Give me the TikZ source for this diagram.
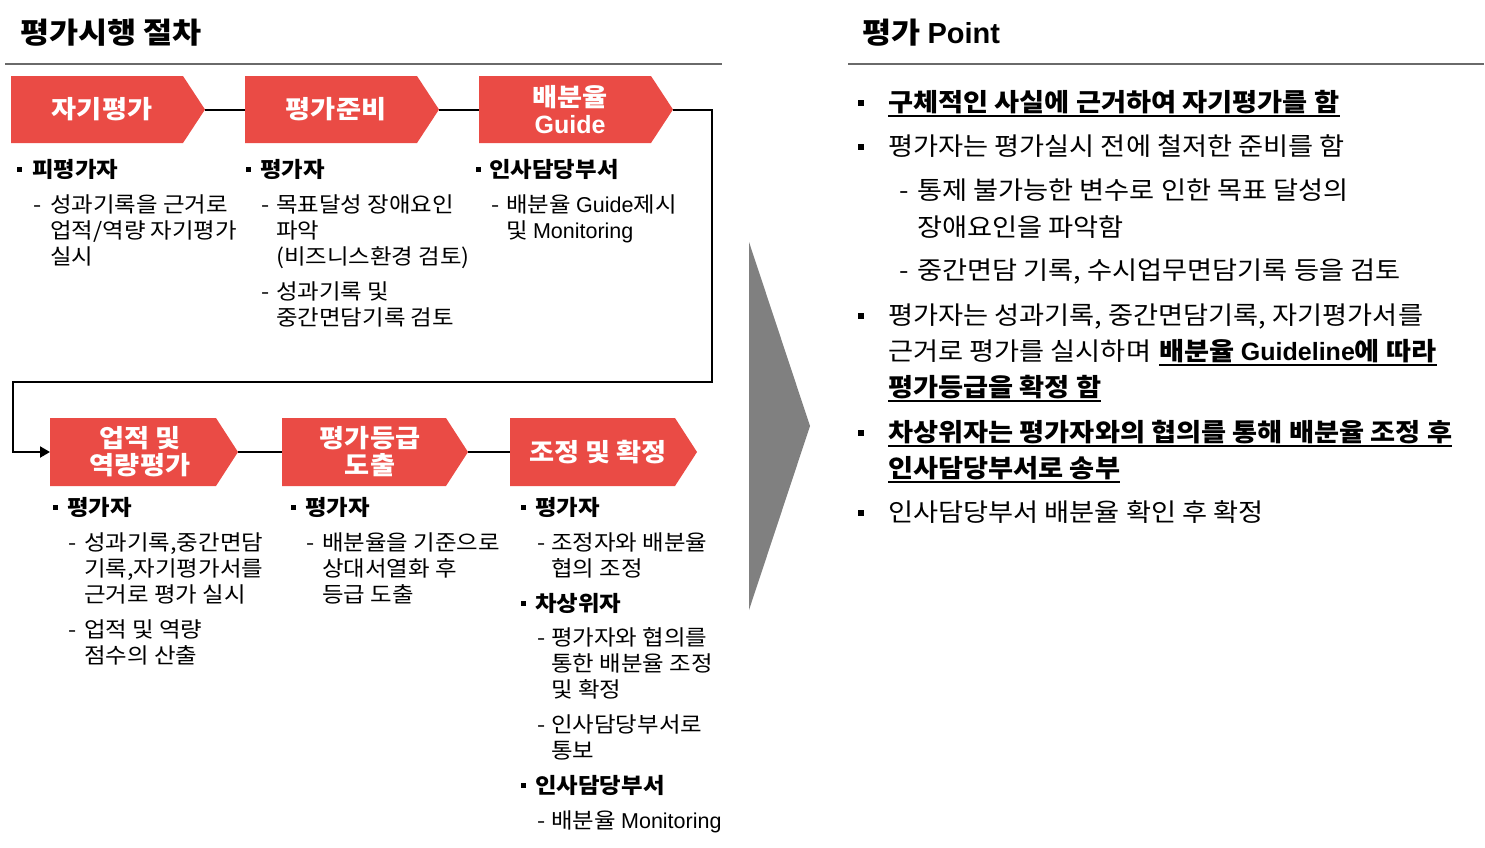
\documentclass[tikz,border=0pt]{standalone}
\usepackage{fontspec}
\setmainfont{Noto Sans CJK KR}[FakeStretch=1.09]
\newfontfamily\lat{Liberation Sans}
\usetikzlibrary{arrows.meta,calc}
\definecolor{chevred}{HTML}{EA4B45}
\definecolor{rulegray}{HTML}{6A6A6A}
\definecolor{arrowgray}{HTML}{808080}
\newcommand{\chevshape}[6]{%
  \fill[chevred] (#2,#5) -- (#3,#5) -- (#4,{(#5+#6)/2}) -- (#3,#6) -- (#2,#6) -- cycle;
  \coordinate (#1w) at (#2,{(#5+#6)/2});
  \coordinate (#1e) at (#4,{(#5+#6)/2});
}
\tikzset{
  chevtext/.style={text=white, font=\bfseries\fontsize{25}{27}\selectfont, align=center, inner sep=0pt},
  lt/.style={anchor=base west, inner sep=0pt, font=\fontsize{21.5}{26}\selectfont},
  lb/.style={anchor=base west, inner sep=0pt, font=\bfseries\fontsize{21.5}{26}\selectfont},
  rt/.style={anchor=base west, inner sep=0pt, font=\fontsize{25}{36}\selectfont},
  rb/.style={anchor=base west, inner sep=0pt, font=\bfseries\fontsize{25}{36}\selectfont},
  ttl/.style={anchor=base west, inner sep=0pt, font=\bfseries\fontsize{29}{34}\selectfont},
  sq/.style={rectangle, fill=black, inner sep=0pt, minimum size=5pt},
  rsq/.style={rectangle, fill=black, inner sep=0pt, minimum size=6pt},
  conn/.style={draw=black, line width=2pt},
  hrule/.style={draw=rulegray, line width=2pt},
  uline/.style={draw=black, line width=1.6pt},
}
\begin{document}
\begin{tikzpicture}[x=1pt,y=-1pt]
\useasboundingbox (0,0) rectangle (1485,847);

% titles and rules
\node[ttl] (t1) at (20,43) {평가시행 절차};
\node[ttl] (t2) at (862,43) {평가 {\lat Point}};
\draw[hrule] (5,64) -- (722,64);
\draw[hrule] (848,64) -- (1484,64);

% chevrons row 1
\chevshape{c1}{11}{183}{205}{76}{143}
\chevshape{c2}{245}{417}{439}{76}{143}
\chevshape{c3}{479}{651}{673}{76}{143}
\node[chevtext] (c1t) at (102,109.5) {자기평가};
\node[chevtext] (c2t) at (336,109.5) {평가준비};
\node[chevtext] (c3t) at (570,109.5) {배분율\\{\lat Guide}};

% chevrons row 2
\chevshape{c4}{50}{216}{238}{418}{486}
\chevshape{c5}{282}{446}{468}{418}{486}
\chevshape{c6}{510}{675}{697}{418}{486}
\node[chevtext] (c4t) at (140,452) {업적 및\\역량평가};
\node[chevtext] (c5t) at (370,452) {평가등급\\도출};
\node[chevtext] (c6t) at (598,452) {조정 및 확정};

% connectors
\draw[conn] (c1e) -- (c2w);
\draw[conn] (c2e) -- (c3w);
\draw[conn] (c4e) -- (c5w);
\draw[conn] (c5e) -- (c6w);
\coordinate (lr) at (712,382);
\coordinate (ll) at (13,382);
\draw[conn, -{Triangle[length=10pt,width=11pt]}] (c3e) -| (lr) -- (ll) |- (c4w);

% gray arrow
\fill[arrowgray] (749,242) -- (810,426) -- (749,610) -- cycle;

% column 1
\node[sq] (b11) at (19.5,169) {};
\node[lb] (h11) at (32,177) {피평가자};
\node[lt] (d11) at (33,212) {-};
\node[lt] (l11a) at (50,212) {성과기록을 근거로};
\node[lt] (l11b) at (50,238) {업적/역량 자기평가};
\node[lt] (l11c) at (50,264) {실시};

% column 2
\node[sq] (b21) at (248.5,169) {};
\node[lb] (h21) at (260,177) {평가자};
\node[lt] (d21) at (261,212) {-};
\node[lt] (l21a) at (276,212) {목표달성 장애요인};
\node[lt] (l21b) at (276,238) {파악};
\node[lt] (l21c) at (276,264) {(비즈니스환경 검토)};
\node[lt] (d22) at (261,299) {-};
\node[lt] (l22a) at (276,299) {성과기록 및};
\node[lt] (l22b) at (276,325) {중간면담기록 검토};

% column 3
\node[sq] (b31) at (478.5,169) {};
\node[lb] (h31) at (489,177) {인사담당부서};
\node[lt] (d31) at (491,212) {-};
\node[lt] (l31a) at (506,212) {배분율 {\lat Guide}제시};
\node[lt] (l31b) at (506,238) {및 {\lat Monitoring}};

% column 4
\node[sq] (b41) at (55.5,507) {};
\node[lb] (h41) at (67,515) {평가자};
\node[lt] (d41) at (68,550) {-};
\node[lt] (l41a) at (84,550) {성과기록,중간면담};
\node[lt] (l41b) at (84,576) {기록,자기평가서를};
\node[lt] (l41c) at (84,602) {근거로 평가 실시};
\node[lt] (d42) at (68,637) {-};
\node[lt] (l42a) at (84,637) {업적 및 역량};
\node[lt] (l42b) at (84,663) {점수의 산출};

% column 5
\node[sq] (b51) at (293.5,507) {};
\node[lb] (h51) at (305,515) {평가자};
\node[lt] (d51) at (306,550) {-};
\node[lt] (l51a) at (322,550) {배분율을 기준으로};
\node[lt] (l51b) at (322,576) {상대서열화 후};
\node[lt] (l51c) at (322,602) {등급 도출};

% column 6
\node[sq] (b61) at (523.5,507) {};
\node[lb] (h61) at (535,515) {평가자};
\node[lt] (d61) at (537,550) {-};
\node[lt] (l61a) at (551,550) {조정자와 배분율};
\node[lt] (l61b) at (551,576) {협의 조정};
\node[sq] (b62) at (523.5,603) {};
\node[lb] (h62) at (535,611) {차상위자};
\node[lt] (d62) at (537,645) {-};
\node[lt] (l62a) at (551,645) {평가자와 협의를};
\node[lt] (l62b) at (551,671) {통한 배분율 조정};
\node[lt] (l62c) at (551,697) {및 확정};
\node[lt] (d63) at (537,732) {-};
\node[lt] (l63a) at (551,732) {인사담당부서로};
\node[lt] (l63b) at (551,758) {통보};
\node[sq] (b63) at (523.5,785) {};
\node[lb] (h63) at (535,793) {인사담당부서};
\node[lt] (d64) at (537,828) {-};
\node[lt] (l64a) at (551,828) {배분율 {\lat Monitoring}};

% right panel
\node[rsq] (rb1) at (860.5,103) {};
\node[rb] (r1) at (888,111.5) {구체적인 사실에 근거하여 자기평가를 함};
\draw[uline] ([yshift=-4.5pt]r1.base west) -- ([yshift=-4.5pt]r1.base east);

\node[rsq] (rb2) at (860.5,147) {};
\node[rt] (r2) at (888,155.5) {평가자는 평가실시 전에 철저한 준비를 함};
\node[rt] (rd1) at (899,199.5) {-};
\node[rt] (r2a) at (917,199.5) {통제 불가능한 변수로 인한 목표 달성의};
\node[rt] (r2b) at (917,236.5) {장애요인을 파악함};
\node[rt] (rd2) at (899,279.5) {-};
\node[rt] (r2c) at (917,279.5) {중간면담 기록, 수시업무면담기록 등을 검토};

\node[rsq] (rb3) at (860.5,316) {};
\node[rt] (r3a) at (888,324.5) {평가자는 성과기록, 중간면담기록, 자기평가서를};
\node[rt] (r3b) at (888,360.5) {근거로 평가를 실시하며};
\node[rb] (r3c) at ([xshift=8pt]r3b.base east) {배분율 {\lat Guideline}에 따라};
\draw[uline] ([yshift=-4.5pt]r3c.base west) -- ([yshift=-4.5pt]r3c.base east);
\node[rb] (r3d) at (888,396.5) {평가등급을 확정 함};
\draw[uline] ([yshift=-4.5pt]r3d.base west) -- ([yshift=-4.5pt]r3d.base east);

\node[rsq] (rb4) at (860.5,433) {};
\node[rb] (r4a) at (888,441.5) {차상위자는 평가자와의 협의를 통해 배분율 조정 후};
\draw[uline] ([yshift=-4.5pt]r4a.base west) -- ([yshift=-4.5pt]r4a.base east);
\node[rb] (r4b) at (888,477.5) {인사담당부서로 송부};
\draw[uline] ([yshift=-4.5pt]r4b.base west) -- ([yshift=-4.5pt]r4b.base east);

\node[rsq] (rb5) at (860.5,513) {};
\node[rt] (r5) at (888,521.5) {인사담당부서 배분율 확인 후 확정};
\end{tikzpicture}
\end{document}
